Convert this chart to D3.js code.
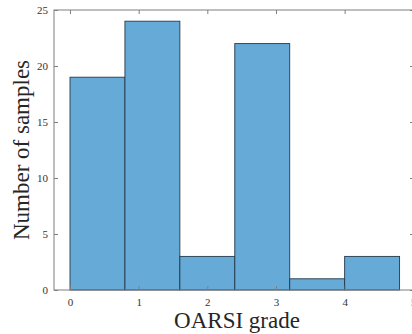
<!DOCTYPE html>
<html>
<head>
<meta charset="utf-8">
<script src="https://cdn.jsdelivr.net/npm/d3@7"></script>
<style>
  body { margin: 0; background: #fff; overflow: hidden; }
  svg { display: block; }
</style>
</head>
<body>
<script>
const binEdges = [0, 0.8, 1.6, 2.4, 3.2, 4.0, 4.8];
const counts = [19, 24, 3, 22, 1, 3];
const xTicks = [0, 1, 2, 3, 4, 5];
const yTicks = [0, 5, 10, 15, 20, 25];

const width = 412, height = 334;
const margin = {left: 54, top: 10, right: -2, bottom: 44};

const svg = d3.select('body')
    .append('svg')
    .attr('width', width)
    .attr('height', height);

const x = d3.scaleLinear()
    .domain([-0.233, 5.01])
    .range([margin.left, width - margin.right]);

const y = d3.scaleLinear()
    .domain([0, 25])
    .range([height - margin.bottom, margin.top]);

const bins = counts.map((c, i) => ({x0: binEdges[i], x1: binEdges[i + 1], count: c}));

svg.selectAll('.bar')
    .data(bins)
    .enter()
    .append('rect')
    .classed('bar', true)
    .attr('x', d => x(d.x0))
    .attr('y', d => y(d.count))
    .attr('width', d => x(d.x1) - x(d.x0))
    .attr('height', d => y(0) - y(d.count))
    .attr('fill', '#66aad7')
    .attr('stroke', '#24394b')
    .attr('stroke-width', 0.9);

const axisColor = '#7f7f7f';
const tickSize = 4;
const fmt = d3.format('d');

// box outline
svg.append('rect')
    .attr('x', x.range()[0])
    .attr('y', y.range()[1])
    .attr('width', x.range()[1] - x.range()[0])
    .attr('height', y.range()[0] - y.range()[1])
    .attr('fill', 'none')
    .attr('stroke', axisColor)
    .attr('stroke-width', 1);

// x axis ticks (inward, top and bottom)
const xAxis = svg.append('g')
    .attr('transform', 'translate(0,' + y(0) + ')')
    .call(d3.axisBottom(x).tickValues(xTicks).tickFormat(fmt).tickSizeInner(-tickSize).tickSizeOuter(0).tickPadding(8));
xAxis.select('.domain').remove();

svg.append('g')
    .attr('transform', 'translate(0,' + y(25) + ')')
    .call(d3.axisTop(x).tickValues(xTicks).tickSizeInner(-tickSize).tickSizeOuter(0).tickFormat(''))
    .select('.domain').remove();

const yAxis = svg.append('g')
    .attr('transform', 'translate(' + x.range()[0] + ',0)')
    .call(d3.axisLeft(y).tickValues(yTicks).tickFormat(fmt).tickSizeInner(-tickSize).tickSizeOuter(0).tickPadding(6));
yAxis.select('.domain').remove();

svg.append('g')
    .attr('transform', 'translate(' + x.range()[1] + ',0)')
    .call(d3.axisRight(y).tickValues(yTicks).tickSizeInner(-tickSize).tickSizeOuter(0).tickFormat(''))
    .select('.domain').remove();

svg.selectAll('.tick line').attr('stroke', axisColor);
svg.selectAll('.tick text')
    .attr('fill', '#333')
    .style('font-family', '"Liberation Serif", "DejaVu Serif", serif')
    .style('font-size', '11px');

svg.append('text')
    .attr('x', (x.range()[0] + x.range()[1]) / 2 + 3)
    .attr('y', 328)
    .attr('text-anchor', 'middle')
    .style('font-family', '"Liberation Serif", "DejaVu Serif", serif')
    .style('font-size', '23px')
    .attr('fill', '#262626')
    .text('OARSI grade');

svg.append('text')
    .attr('transform', 'translate(29,' + ((y.range()[0] + y.range()[1]) / 2) + ') rotate(-90)')
    .attr('text-anchor', 'middle')
    .style('font-family', '"Liberation Serif", "DejaVu Serif", serif')
    .style('font-size', '23px')
    .attr('fill', '#262626')
    .text('Number of samples');
</script>
</body>
</html>
